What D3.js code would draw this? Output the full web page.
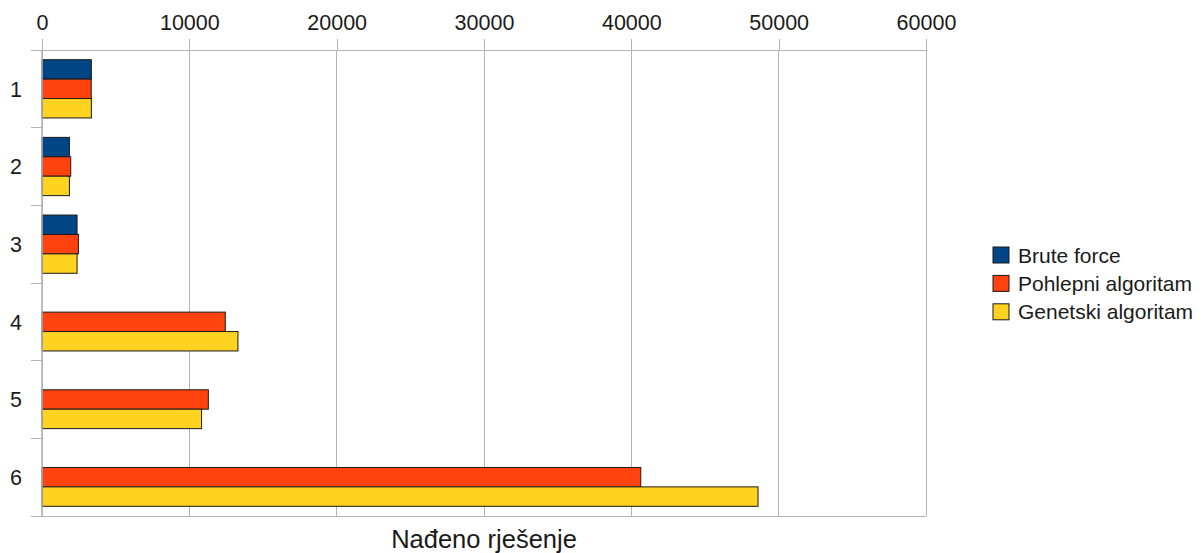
<!DOCTYPE html>
<html>
<head>
<meta charset="utf-8">
<script src="https://cdn.jsdelivr.net/npm/d3@7"></script>
<style>
  body { margin: 0; background: #fff; }
  text { font-family: "Liberation Sans", Arial, sans-serif; fill: #1a1a1a; }
</style>
</head>
<body>
<div class="canvas"></div>
<script>
// data
const categories = ['1', '2', '3', '4', '5', '6']
const seriesNames = ['Brute force', 'Pohlepni algoritam', 'Genetski algoritam']
const bruteForce = [3350, 1860, 2380, 0, 0, 0]
const pohlepni = [3340, 1950, 2470, 12440, 11290, 40640]
const genetski = [3350, 1860, 2380, 13300, 10830, 48600]
const xTicks = [0, 10000, 20000, 30000, 40000, 50000, 60000]
const axisTitle = 'Nađeno rješenje'

const colors = ['#004586', '#ff420e', '#ffd320']
const seriesValues = [bruteForce, pohlepni, genetski]

const width = 1203
const height = 553
const margin = { top: 50, right: 277, bottom: 37, left: 42 }
const graphWidth = width - margin.left - margin.right
const graphHeight = height - margin.top - margin.bottom

const svg = d3.select('.canvas')
  .append('svg')
  .attr('width', width)
  .attr('height', height)

const graph = svg.append('g')
  .attr('transform', `translate(${margin.left}, ${margin.top})`)

// scales
const x = d3.scaleLinear()
  .domain([0, 60000])
  .range([0, graphWidth])

const y = d3.scaleBand()
  .domain(categories)
  .range([0, graphHeight])

const inner = d3.scaleBand()
  .domain(seriesNames)
  .range([y.bandwidth() * 0.125, y.bandwidth() * 0.875])

// grid lines
graph.append('g')
  .selectAll('line')
  .data(xTicks)
  .enter()
  .append('line')
  .attr('x1', d => x(d))
  .attr('x2', d => x(d))
  .attr('y1', 0)
  .attr('y2', graphHeight)
  .attr('stroke', '#b3b3b3')
  .attr('stroke-width', 1)
  .attr('shape-rendering', 'crispEdges')

// frame: top and bottom
graph.append('line')
  .attr('x1', -11).attr('x2', graphWidth)
  .attr('y1', 0).attr('y2', 0)
  .attr('stroke', '#b3b3b3').attr('shape-rendering', 'crispEdges')
graph.append('line')
  .attr('x1', -11).attr('x2', graphWidth)
  .attr('y1', graphHeight).attr('y2', graphHeight)
  .attr('stroke', '#b3b3b3').attr('shape-rendering', 'crispEdges')

// bars
const rows = categories.map((c, i) => ({
  cat: c,
  values: seriesNames.map((s, j) => ({ name: s, value: seriesValues[j][i], color: colors[j] }))
}))

const groups = graph.selectAll('.cat')
  .data(rows)
  .enter()
  .append('g')
  .attr('class', 'cat')
  .attr('transform', d => `translate(0, ${y(d.cat)})`)

groups.selectAll('rect')
  .data(d => d.values.filter(v => v.value > 0))
  .enter()
  .append('rect')
  .attr('x', x(0))
  .attr('y', d => inner(d.name))
  .attr('width', d => x(d.value) - x(0))
  .attr('height', inner.bandwidth())
  .attr('fill', d => d.color)
  .attr('stroke', '#1a1a1a')
  .attr('stroke-width', 1)

// top axis
const xAxis = d3.axisTop(x)
  .tickValues(xTicks)
  .tickSize(11)
  .tickPadding(9)
  .tickFormat(d => d)

const xAxisGroup = graph.append('g').call(xAxis)
xAxisGroup.select('.domain').remove()
xAxisGroup.selectAll('line').attr('stroke', '#b3b3b3').attr('shape-rendering', 'crispEdges')
xAxisGroup.selectAll('text')
  .attr('font-size', 21.5)
  .attr('fill', '#1a1a1a')
  .style('font-family', '"Liberation Sans", Arial, sans-serif')

// left axis: ticks at category boundaries
const boundaries = categories.map(c => y(c)).concat([graphHeight])
graph.append('g')
  .selectAll('line')
  .data(boundaries)
  .enter()
  .append('line')
  .attr('x1', -11).attr('x2', 0)
  .attr('y1', d => d).attr('y2', d => d)
  .attr('stroke', '#b3b3b3').attr('shape-rendering', 'crispEdges')

graph.append('line')
  .attr('x1', 0).attr('x2', 0)
  .attr('y1', 0).attr('y2', graphHeight)
  .attr('stroke', '#b3b3b3').attr('stroke-width', 1.5)

graph.append('g')
  .selectAll('text')
  .data(categories)
  .enter()
  .append('text')
  .attr('x', -20)
  .attr('y', d => y(d) + y.bandwidth() / 2)
  .attr('dy', '0.36em')
  .attr('text-anchor', 'end')
  .attr('font-size', 21.5)
  .text(d => d)

// axis title
svg.append('text')
  .attr('x', margin.left + graphWidth / 2)
  .attr('y', 548)
  .attr('text-anchor', 'middle')
  .attr('font-size', 25.5)
  .text(axisTitle)

// legend
const legend = svg.append('g')
  .attr('transform', 'translate(993, 247)')

const items = legend.selectAll('g')
  .data(seriesNames)
  .enter()
  .append('g')
  .attr('transform', (d, i) => `translate(0, ${i * 28.4})`)

items.append('rect')
  .attr('width', 16)
  .attr('height', 16)
  .attr('fill', (d, i) => colors[i])
  .attr('stroke', '#1a1a1a')
  .attr('stroke-width', 1)

items.append('text')
  .attr('x', 25)
  .attr('y', 8)
  .attr('dy', '0.36em')
  .attr('font-size', 21)
  .text(d => d)
</script>
</body>
</html>
